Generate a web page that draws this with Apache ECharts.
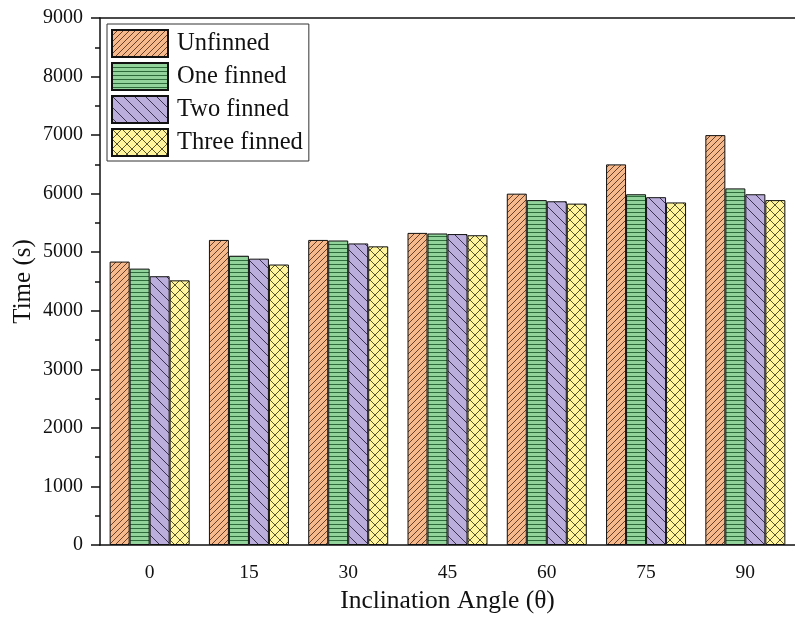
<!DOCTYPE html>
<html>
<head>
<meta charset="utf-8">
<script src="https://cdn.jsdelivr.net/npm/echarts@6/dist/echarts.min.js"></script>
<style>
    html, body {margin: 0; padding: 0; background: #fff;}
    #chart {width: 795px; height: 621px;}
</style>
</head>
<body>
<div id="chart"></div>
<script>
// data
const angles = ['0', '15', '30', '45', '60', '75', '90'];
const unfinned = [4840, 5210, 5210, 5330, 6000, 6500, 7000];
const oneFinned = [4720, 4940, 5200, 5320, 5890, 5990, 6090];
const twoFinned = [4590, 4890, 5150, 5310, 5870, 5940, 5990];
const threeFinned = [4520, 4790, 5100, 5290, 5830, 5850, 5890];

const font = 'Liberation Serif';

// hatch patterns
const makePattern = (w, h, bg, line, draw) => {
    const c = document.createElement('canvas');
    c.width = w;
    c.height = h;
    const ctx = c.getContext('2d');
    ctx.fillStyle = bg;
    ctx.fillRect(0, 0, w, h);
    ctx.strokeStyle = line;
    ctx.lineWidth = 1;
    draw(ctx, w, h);
    return {image: c, repeat: 'repeat'};
};

// "/" lines
const slashFill = makePattern(6, 6, '#f5b98c', '#6b4028', (ctx, w, h) => {
    ctx.beginPath();
    ctx.moveTo(-1, h + 1); ctx.lineTo(w + 1, -1);
    ctx.moveTo(-1, 1); ctx.lineTo(1, -1);
    ctx.moveTo(w - 1, h + 1); ctx.lineTo(w + 1, h - 1);
    ctx.stroke();
});
// horizontal lines
const hLineFill = makePattern(8, 4, '#92d29b', '#2e6b3a', (ctx, w) => {
    ctx.beginPath();
    ctx.moveTo(0, 0.5); ctx.lineTo(w, 0.5);
    ctx.stroke();
});
// "\" lines
const backFill = makePattern(11, 11, '#bbaedc', '#3a3050', (ctx, w, h) => {
    ctx.beginPath();
    ctx.moveTo(-1, -1); ctx.lineTo(w + 1, h + 1);
    ctx.moveTo(w - 1, -1); ctx.lineTo(w + 1, 1);
    ctx.moveTo(-1, h - 1); ctx.lineTo(1, h + 1);
    ctx.stroke();
});
// cross hatch
const crossFill = makePattern(10, 10, '#fff59c', '#5a5630', (ctx, w, h) => {
    ctx.beginPath();
    ctx.moveTo(0, 0); ctx.lineTo(w, h);
    ctx.moveTo(w, 0); ctx.lineTo(0, h);
    ctx.stroke();
});

const barSeries = (name, data, fill) => ({
    name,
    type: 'bar',
    data,
    xAxisIndex: 0,
    barWidth: 20,
    barGap: '0%',
    itemStyle: {color: fill, borderColor: '#111', borderWidth: 1},
});

const chart = echarts.init(document.getElementById('chart'));
const option = {
    animation: false,
    backgroundColor: '#fff',
    grid: {left: 100, top: 18, width: 703, bottom: 76},
    legend: {
        orient: 'vertical',
        left: 107,
        top: 24,
        padding: [5, 6, 4, 4],
        icon: 'rect',
        itemWidth: 56,
        itemHeight: 27,
        itemGap: 4,
        borderColor: '#333',
        borderWidth: 1,
        textStyle: {fontFamily: font, fontSize: 24.5, color: '#111', padding: [0, 0, 0, 4]},
        data: ['Unfinned', 'One finned', 'Two finned', 'Three finned'],
    },
    xAxis: [
        {
            type: 'category',
            data: angles,
            name: 'Inclination Angle (θ)',
            nameLocation: 'middle',
            nameGap: 40,
            nameTextStyle: {fontFamily: font, fontSize: 25.5, color: '#111'},
            axisLine: {lineStyle: {color: '#111', width: 1.5}},
            axisTick: {alignWithLabel: true, length: 9, lineStyle: {color: '#111', width: 1.5}},
            axisLabel: {fontFamily: font, fontSize: 19.5, color: '#111', margin: 18},
        },
        {
            type: 'category',
            data: angles,
            position: 'top',
            axisLine: {show: true, lineStyle: {color: '#111', width: 1.5}},
            axisTick: {show: false},
            axisLabel: {show: false},
        },
    ],
    yAxis: {
        type: 'value',
        min: 0,
        max: 9000,
        interval: 1000,
        name: 'Time (s)',
        nameLocation: 'middle',
        nameGap: 64,
        nameMoveOverlap: false,
        nameTextStyle: {fontFamily: font, fontSize: 25, color: '#111'},
        axisLine: {show: true, lineStyle: {color: '#111', width: 1.5}},
        axisTick: {show: true, length: 9, lineStyle: {color: '#111', width: 1.5}},
        minorTick: {show: true, splitNumber: 2, length: 5, lineStyle: {color: '#111', width: 1.5}},
        splitLine: {show: false},
        axisLabel: {fontFamily: font, fontSize: 20, color: '#111', margin: 17, formatter: v => String(v)},
    },
    series: [
        barSeries('Unfinned', unfinned, slashFill),
        barSeries('One finned', oneFinned, hLineFill),
        barSeries('Two finned', twoFinned, backFill),
        barSeries('Three finned', threeFinned, crossFill),
    ],
};
chart.setOption(option);
</script>
</body>
</html>
